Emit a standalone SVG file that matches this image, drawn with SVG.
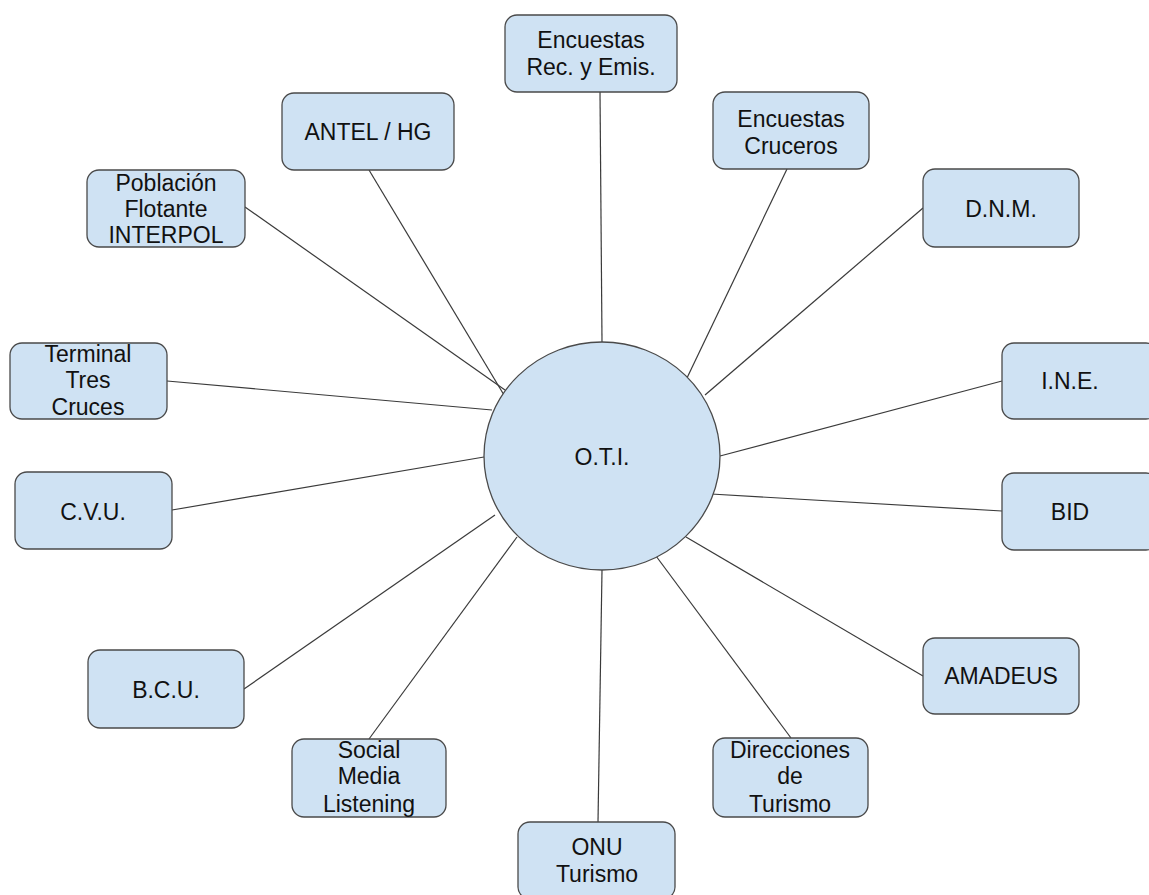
<svg xmlns="http://www.w3.org/2000/svg" width="1149" height="895" viewBox="0 0 1149 895">
<style>
.box{fill:#cfe2f3;stroke:#4a4a4a;stroke-width:1.3}
.t{font-family:"Liberation Sans",Arial,sans-serif;font-size:23px;fill:#111111;text-anchor:middle}
.c line{stroke:#3a3a3a;stroke-width:1.2}
</style>
<rect width="1149" height="895" fill="#ffffff"/>
<g class="c" id="connectors">
<line x1="600" y1="92" x2="602" y2="342"/>
<line x1="369" y1="170" x2="507" y2="400"/>
<line x1="787" y1="169" x2="686" y2="380"/>
<line x1="245" y1="207" x2="505" y2="390"/>
<line x1="923" y1="208" x2="705" y2="395"/>
<line x1="167" y1="381" x2="492" y2="410"/>
<line x1="1002" y1="381" x2="720" y2="456"/>
<line x1="1002" y1="511" x2="711" y2="494"/>
<line x1="172" y1="510" x2="484" y2="457"/>
<line x1="923" y1="676" x2="686" y2="537"/>
<line x1="244" y1="689" x2="495" y2="515"/>
<line x1="369" y1="739" x2="517" y2="537"/>
<line x1="598" y1="822" x2="602" y2="570"/>
<line x1="791" y1="738" x2="656" y2="556"/>
</g>
<g id="oti"><ellipse class="box" cx="602" cy="456" rx="118" ry="114"/><text class="t" x="602" y="465">O.T.I.</text></g>
<g id="encuestas-rec"><rect class="box" x="505" y="15" width="172" height="77" rx="12"/><text class="t" x="591" y="48">Encuestas</text><text class="t" x="591" y="75">Rec. y Emis.</text></g>
<g id="antel"><rect class="box" x="282" y="93" width="172" height="77" rx="12"/><text class="t" x="368" y="140">ANTEL / HG</text></g>
<g id="encuestas-cruceros"><rect class="box" x="713" y="92" width="156" height="77" rx="12"/><text class="t" x="791" y="127">Encuestas</text><text class="t" x="791" y="154">Cruceros</text></g>
<g id="poblacion"><rect class="box" x="87" y="170" width="158" height="77" rx="12"/><text class="t" x="166" y="191">Población</text><text class="t" x="166" y="217">Flotante</text><text class="t" x="166" y="243">INTERPOL</text></g>
<g id="dnm"><rect class="box" x="923" y="169" width="156" height="78" rx="12"/><text class="t" x="1001" y="217">D.N.M.</text></g>
<g id="terminal"><rect class="box" x="10" y="343" width="157" height="76" rx="12"/><text class="t" x="88" y="362">Terminal</text><text class="t" x="88" y="388">Tres</text><text class="t" x="88" y="415">Cruces</text></g>
<g id="ine"><rect class="box" x="1002" y="343" width="156" height="76" rx="12"/><text class="t" x="1070" y="389">I.N.E.</text></g>
<g id="cvu"><rect class="box" x="15" y="472" width="157" height="77" rx="12"/><text class="t" x="93" y="520">C.V.U.</text></g>
<g id="bid"><rect class="box" x="1002" y="473" width="156" height="77" rx="12"/><text class="t" x="1070" y="520">BID</text></g>
<g id="bcu"><rect class="box" x="88" y="650" width="156" height="78" rx="12"/><text class="t" x="166" y="698">B.C.U.</text></g>
<g id="amadeus"><rect class="box" x="923" y="638" width="156" height="76" rx="12"/><text class="t" x="1001" y="684">AMADEUS</text></g>
<g id="social"><rect class="box" x="292" y="739" width="154" height="78" rx="12"/><text class="t" x="369" y="758">Social</text><text class="t" x="369" y="784">Media</text><text class="t" x="369" y="812">Listening</text></g>
<g id="direcciones"><rect class="box" x="713" y="738" width="155" height="79" rx="12"/><text class="t" x="790" y="758">Direcciones</text><text class="t" x="790" y="784">de</text><text class="t" x="790" y="812">Turismo</text></g>
<g id="onu"><rect class="box" x="518" y="822" width="157" height="77" rx="12"/><text class="t" x="597" y="855">ONU</text><text class="t" x="597" y="882">Turismo</text></g>
</svg>
